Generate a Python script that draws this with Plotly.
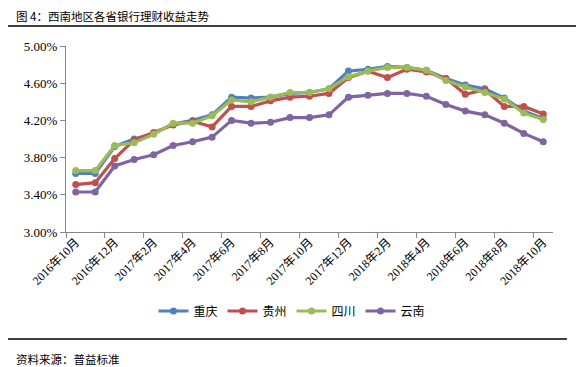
import plotly.graph_objects as go

months = ["2016年10月", "2016年11月", "2016年12月", "2017年1月", "2017年2月", "2017年3月",
          "2017年4月", "2017年5月", "2017年6月", "2017年7月", "2017年8月", "2017年9月",
          "2017年10月", "2017年11月", "2017年12月", "2018年1月", "2018年2月", "2018年3月",
          "2018年4月", "2018年5月", "2018年6月", "2018年7月", "2018年8月", "2018年9月",
          "2018年10月"]

chongqing = [3.63, 3.63, 3.92, 4.00, 4.06, 4.16, 4.20, 4.26, 4.45, 4.44, 4.45, 4.49,
             4.50, 4.54, 4.73, 4.75, 4.78, 4.77, 4.74, 4.65, 4.58, 4.54, 4.44, 4.30, 4.22]
guizhou = [3.51, 3.53, 3.79, 3.99, 4.07, 4.15, 4.19, 4.13, 4.35, 4.35, 4.41, 4.45,
           4.46, 4.49, 4.66, 4.73, 4.66, 4.75, 4.72, 4.65, 4.48, 4.53, 4.35, 4.35, 4.27]
sichuan = [3.66, 3.66, 3.93, 3.96, 4.05, 4.17, 4.17, 4.25, 4.42, 4.40, 4.45, 4.50,
           4.50, 4.54, 4.67, 4.73, 4.77, 4.77, 4.74, 4.63, 4.56, 4.50, 4.43, 4.28, 4.21]
yunnan = [3.43, 3.43, 3.71, 3.78, 3.83, 3.93, 3.97, 4.02, 4.20, 4.17, 4.18, 4.23,
          4.23, 4.26, 4.45, 4.47, 4.49, 4.49, 4.46, 4.37, 4.30, 4.26, 4.17, 4.06, 3.97]

series_names = ["重庆", "贵州", "四川", "云南"]
series_values = [chongqing, guizhou, sichuan, yunnan]
colors = ["#4F81BD", "#C0504D", "#9BBB59", "#8064A2"]

y_ticks = [3.0, 3.4, 3.8, 4.2, 4.6, 5.0]

# page has an 8px body margin; work in page coordinates and shift
OFF = 8
W, H = 584 - OFF, 367 - OFF
L, R, T, B = 66 - OFF, 553 - OFF, 46 - OFF, 232 - OFF


def px(x):
    return (x - OFF - L) / (R - L)


def py(y):
    return (B - (y - OFF)) / (B - T)


idx = list(range(len(months)))
fig = go.Figure()
for name, vals, col in zip(series_names, series_values, colors):
    fig.add_trace(go.Scatter(
        x=idx, y=vals, name=name, mode="lines+markers",
        line=dict(color=col, width=3.2),
        marker=dict(color=col, size=7, symbol="circle"),
    ))

# invisible trace for boundary tick axis
fig.add_trace(go.Scatter(x=[-0.5, 24.5], y=[3, 3], xaxis="x2", mode="lines",
                         line=dict(width=0), showlegend=False, hoverinfo="skip"))

label_idx = idx[::2]
serif = "Times New Roman, Liberation Serif, Noto Sans CJK SC"
cjk = "SimSun, Noto Sans CJK SC"

fig.update_layout(
    width=W, height=H,
    margin=dict(l=L, r=W - R, t=T, b=H - B),
    paper_bgcolor="white", plot_bgcolor="white",
    font=dict(family=serif, size=12, color="#000000"),
    xaxis=dict(
        range=[-0.5, 24.5], tickvals=label_idx, ticktext=[months[i] for i in label_idx],
        tickangle=-45, ticks="", showgrid=False, zeroline=False, showline=False,
        tickfont=dict(family=serif, size=12, color="#000000"),
    ),
    xaxis2=dict(
        range=[-0.5, 24.5], overlaying="x", anchor="y", side="bottom",
        tickvals=[-0.5 + 2 * k for k in range(13)], ticktext=[""] * 13,
        ticks="outside", ticklen=5, tickcolor="#868686", tickwidth=1,
        showline=True, linecolor="#868686", linewidth=1,
        showgrid=False, zeroline=False,
    ),
    yaxis=dict(
        range=[3.0, 5.0], tickvals=y_ticks, ticktext=[f"{v:.2f}%" for v in y_ticks],
        ticks="outside", ticklen=5, tickcolor="#868686",
        showline=True, linecolor="#868686", linewidth=1,
        showgrid=False, zeroline=False,
        tickfont=dict(family=serif, size=13, color="#000000"),
    ),
    legend=dict(
        orientation="h", x=px(292), xanchor="center", y=py(311), yanchor="middle",
        font=dict(family=cjk, size=12, color="#000000"),
        itemwidth=30, bgcolor="rgba(0,0,0,0)",
    ),
    showlegend=True,
)

fig.add_annotation(
    x=px(15), y=py(16.5), xref="paper", yref="paper", xanchor="left", yanchor="middle",
    text="图 4：西南地区各省银行理财收益走势", showarrow=False, borderpad=0,
    font=dict(family=cjk, size=11.5, color="#000000"),
)
fig.add_annotation(
    x=px(15), y=py(359), xref="paper", yref="paper", xanchor="left", yanchor="middle",
    text="资料来源：普益标准", showarrow=False, borderpad=0,
    font=dict(family=cjk, size=11.5, color="#000000"),
)
fig.add_shape(type="line", xref="paper", yref="paper",
              x0=px(5), x1=px(578), y0=py(26), y1=py(26),
              line=dict(color="#000000", width=1.5))
fig.add_shape(type="line", xref="paper", yref="paper",
              x0=px(7), x1=px(567), y0=py(339), y1=py(339),
              line=dict(color="#000000", width=1.5))

fig.write_html("out.html")
